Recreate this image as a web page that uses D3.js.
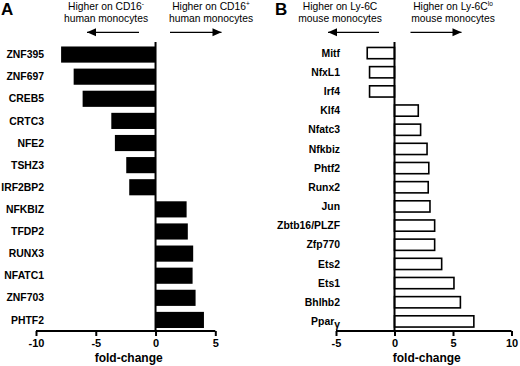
<!DOCTYPE html>
<html><head><meta charset="utf-8">
<script src="https://cdn.jsdelivr.net/npm/d3@7"></script>
<style>body{margin:0;background:#fff}text{font-family:"Liberation Sans",Arial,sans-serif;fill:#000}</style>
</head><body>
<svg id="c" width="520" height="366"></svg>
<script>
const genesA = ["ZNF395","ZNF697","CREB5","CRTC3","NFE2","TSHZ3","IRF2BP2","NFKBIZ","TFDP2","RUNX3","NFATC1","ZNF703","PHTF2"];
const valuesA = [-7.9,-6.85,-6.1,-3.7,-3.4,-2.45,-2.2,2.6,2.7,3.15,3.1,3.35,4.05];
const ticksA = [-10,-5,0,5];
const genesB = ["Mitf","NfxL1","Irf4","Klf4","Nfatc3","Nfkbiz","Phtf2","Runx2","Jun","Zbtb16/PLZF","Zfp770","Ets2","Ets1","Bhlhb2","Ppary"];
const valuesB = [-2.4,-2.2,-2.2,2.1,2.3,2.85,3.0,2.95,3.1,3.5,3.5,4.1,5.15,5.7,6.85];
const ticksB = [-5,0,5,10];

const svg = d3.select("#c");

function panel(o){
  const g = svg.append("g");
  const x = d3.scaleLinear().domain(o.domain).range(o.xr);
  const y = d3.scaleBand().domain(o.genes).range([43.5,331]).paddingInner(o.pad).paddingOuter(o.pad/2);
  const data = o.genes.map((k,i)=>({k,v:o.values[i]}));
  const sw = o.filled ? 0 : 1.6;
  g.selectAll("rect.bar").data(data).join("rect").attr("class","bar")
    .attr("x",d=>Math.min(x(0),x(d.v)) + (d.v<0? sw/2 : 0))
    .attr("width",d=>Math.abs(x(d.v)-x(0)) - sw/2)
    .attr("y",d=>y(d.k)+sw/2).attr("height",y.bandwidth()-sw)
    .attr("fill",o.filled?"#000":"#fff").attr("stroke","#000").attr("stroke-width",sw);
  g.append("line").attr("x1",x(0)).attr("x2",x(0)).attr("y1",42).attr("y2",331).attr("stroke","#000").attr("stroke-width",2);
  const ax = g.append("g").attr("transform","translate(0,331)")
    .call(d3.axisBottom(x).tickValues(o.ticks).tickSize(5).tickPadding(3).tickFormat(d3.format("d")));
  ax.select(".domain").attr("stroke-width",2).attr("d",`M${o.xr[0]},0H${o.xr[1]}`);
  ax.selectAll(".tick line").attr("stroke-width",2);
  ax.selectAll(".tick text").attr("font-size",11).attr("font-weight","bold").attr("font-family",'"Liberation Sans",Arial,sans-serif').attr("fill","#000")
    .text(d=>d<0?"-"+Math.abs(d):d);
  g.append("text").attr("x",(o.xr[0]+o.xr[1])/2+3).attr("y",362).attr("text-anchor","middle")
    .attr("font-size",12).attr("font-weight","bold").text("fold-change");
  const lab = g.selectAll("text.lab").data(data).join("text").attr("class","lab")
    .attr("x",o.labX).attr("y",d=>y(d.k)+y.bandwidth()/2).attr("dy","0.35em")
    .attr("text-anchor","end").attr("font-size",10.4).attr("font-weight","bold");
  lab.each(function(d){
    const t=d3.select(this);
    if(d.k==="Ppary"){ t.append("tspan").text("Ppar"); t.append("tspan").attr("dy",3).text("γ"); }
    else t.text(d.k);
  });
  g.append("text").attr("x",o.letterX).attr("y",15).attr("font-size",17).attr("font-weight","bold").text(o.letter);
  o.headers.forEach(h=>{
    const t1 = g.append("text").attr("x",h.cx).attr("y",10).attr("text-anchor","middle").attr("font-size",10.3);
    t1.append("tspan").text(h.l1);
    if(h.sup) t1.append("tspan").attr("dy",-4).attr("font-size",6.5).text(h.sup);
    g.append("text").attr("x",h.cx).attr("y",21.5).attr("text-anchor","middle").attr("font-size",10.3).text(h.l2);
    const a = h.a;
    g.append("line").attr("x1",a[0]).attr("x2",a[1]).attr("y1",32.3).attr("y2",32.3).attr("stroke","#000").attr("stroke-width",1.3);
    const tip = h.dir<0 ? a[0] : a[1];
    const s = h.dir<0 ? 1 : -1;
    g.append("path").attr("d",`M${tip},32.3L${tip+s*9},28.3L${tip+s*9},36.3Z`).attr("fill","#000");
  });
}

panel({genes:genesA,values:valuesA,ticks:ticksA,domain:[-10,5],xr:[36,215.3],pad:0.27,filled:true,labX:44,letter:"A",letterX:1,
  headers:[{cx:106,l1:"Higher on CD16",sup:"-",l2:"human monocytes",a:[87,139],dir:-1},
           {cx:211,l1:"Higher on CD16",sup:"+",l2:"human monocytes",a:[170,221.5],dir:1}]});
panel({genes:genesB,values:valuesB,ticks:ticksB,domain:[-5,10],xr:[336,511.5],pad:0.33,filled:false,labX:340,letter:"B",letterX:275,
  headers:[{cx:340,l1:"Higher on Ly-6C",sup:"",l2:"mouse monocytes",a:[328,379],dir:-1},
           {cx:453,l1:"Higher on Ly-6C",sup:"lo",l2:"mouse monocytes",a:[410.5,461.5],dir:1}]});
</script>
</body></html>
